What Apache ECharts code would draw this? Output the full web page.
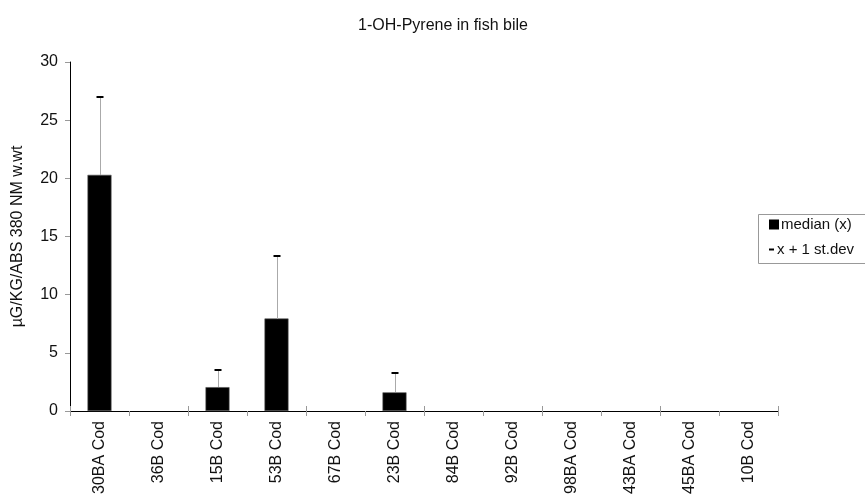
<!DOCTYPE html>
<html>
<head>
<meta charset="utf-8">
<script src="https://cdn.jsdelivr.net/npm/echarts@6/dist/echarts.min.js"></script>
<style>
  html, body { margin: 0; padding: 0; background: #fff; }
  #chart { width: 865px; height: 500px; }
</style>
</head>
<body>
<div id="chart"></div>
<script>
// Station / species labels along the x axis
const stations = ['30BA Cod', '36B Cod', '15B Cod', '53B Cod', '67B Cod', '23B Cod',
                  '84B Cod', '92B Cod', '98BA Cod', '43BA Cod', '45BA Cod', '10B Cod'];
// Median 1-OH-pyrene concentration per station
const medians = [20.3, null, 2.05, 7.95, null, 1.6, null, null, null, null, null, null];
// Median + 1 standard deviation
const upperSd = [27.0, null, 3.55, 13.3, null, 3.3, null, null, null, null, null, null];
// Value axis ticks
const yTicks = [0, 5, 10, 15, 20, 25, 30];

const FONT = 'Liberation Sans, Arial, sans-serif';
const chart = echarts.init(document.getElementById('chart'));

const errData = stations.map((s, i) => [i, medians[i], upperSd[i]]);

chart.setOption({
  backgroundColor: '#fff',
  animation: false,
  title: {
    text: '1-OH-Pyrene in fish bile',
    left: 438, top: 13, textAlign: 'center',
    textStyle: { fontFamily: FONT, fontSize: 16, fontWeight: 'normal', color: '#111' }
  },
  graphic: [{
    type: 'rect', left: 756, top: 212,
    shape: { width: 110, height: 49 },
    style: { fill: 'none', stroke: '#999', lineWidth: 1 }
  }],
  legend: [{
    data: ['median (x)'],
    left: 769, top: 217, padding: 0,
    itemWidth: 10, itemHeight: 10, icon: 'rect',
    itemStyle: { borderWidth: 0, color: '#000' },
    textStyle: { fontFamily: FONT, fontSize: 15, color: '#111', padding: [0, 0, 0, -3] }
  }, {
    data: ['x + 1 st.dev'],
    left: 769, top: 242, padding: 0,
    itemWidth: 5, itemHeight: 2, icon: 'rect',
    itemStyle: { borderWidth: 0, color: '#000' },
    textStyle: { fontFamily: FONT, fontSize: 15, color: '#111', padding: [0, 0, 0, -2] }
  }],
  grid: { left: 70, right: 87, top: 62, bottom: 89 },
  xAxis: [{
    type: 'category', data: stations,
    axisLine: { lineStyle: { color: '#000', width: 1 } },
    axisTick: { show: true, length: 5, lineStyle: { color: '#999' } },
    axisLabel: {
      rotate: 90, margin: 10, color: '#111',
      fontFamily: FONT, fontSize: 16
    }
  }, {
    type: 'category', data: stations, position: 'bottom',
    axisLine: { show: false },
    axisTick: { show: true, inside: true, length: 5, lineStyle: { color: '#999' } },
    axisLabel: { show: false }
  }],
  yAxis: {
    type: 'value', min: 0, max: 30, interval: 5,
    name: 'µG/KG/ABS 380 NM w.wt',
    nameLocation: 'middle', nameGap: 44, nameRotate: 90,
    nameTextStyle: { fontFamily: FONT, fontSize: 16, color: '#111' },
    axisLine: { show: true, lineStyle: { color: '#000', width: 1 } },
    axisTick: { show: true, length: 5, lineStyle: { color: '#999' } },
    axisLabel: {
      margin: 12, color: '#111', fontFamily: FONT, fontSize: 16,
      customValues: yTicks
    },
    splitLine: { show: false }
  },
  series: [{
    name: 'median (x)',
    type: 'bar',
    data: medians,
    barWidth: 24,
    itemStyle: { color: '#000', borderColor: '#555', borderWidth: 0.6 },
    z: 2
  }, {
    name: 'x + 1 st.dev',
    type: 'custom',
    itemStyle: { color: '#000' },
    data: errData,
    encode: { x: 0, y: 2 },
    z: 3,
    renderItem: function (params, api) {
      const hi = api.value(2);
      if (hi == null || isNaN(hi)) return null;
      const lo = api.coord([api.value(0), api.value(1)]);
      const top = api.coord([api.value(0), hi]);
      const x = Math.round(top[0]) + 0.5;
      return {
        type: 'group',
        children: [{
          type: 'line',
          shape: { x1: x, y1: Math.round(lo[1]), x2: x, y2: Math.round(top[1]) },
          style: { stroke: '#aaa', lineWidth: 1 }
        }, {
          type: 'rect',
          shape: { x: x - 4, y: Math.round(top[1]) - 1, width: 7, height: 2 },
          style: { fill: '#000' }
        }]
      };
    }
  }]
});
</script>
</body>
</html>
